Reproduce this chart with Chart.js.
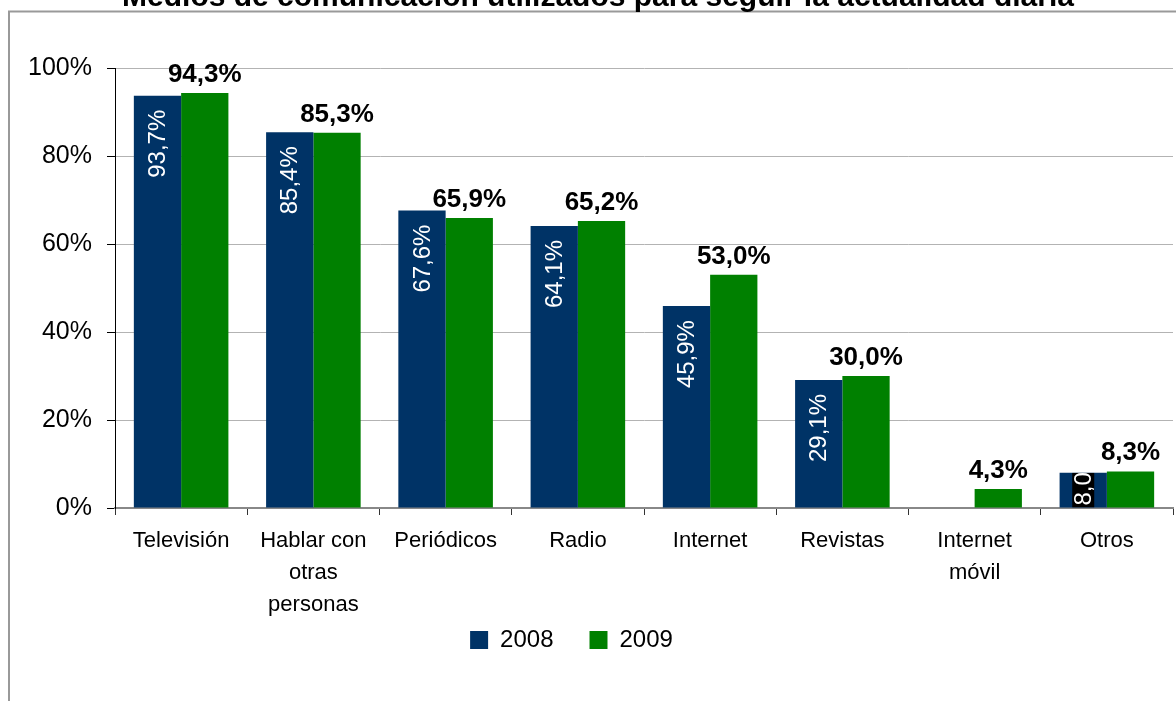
<!DOCTYPE html>
<html>
<head>
<meta charset="utf-8">
<script src="https://cdn.jsdelivr.net/npm/chart.js@4.4.0/dist/chart.umd.min.js"></script>
<style>
  html, body { margin: 0; padding: 0; background: #fff; }
  #wrap { width: 1176px; height: 701px; position: relative; }
</style>
</head>
<body>
<div id="wrap"><canvas id="chart"></canvas></div>
<script>
const chartTitle = 'Medios de comunicación utilizados para seguir la actualidad diaria';
const categories = [['Televisión'], ['Hablar con', 'otras', 'personas'], ['Periódicos'], ['Radio'],
                    ['Internet'], ['Revistas'], ['Internet', 'móvil'], ['Otros']];
const seriesNames = ['2008', '2009'];
const values2008 = [93.7, 85.4, 67.6, 64.1, 45.9, 29.1, null, 8.0];
const values2009 = [94.3, 85.3, 65.9, 65.2, 53.0, 30.0, 4.3, 8.3];
const yMin = 0, yMax = 100, yStep = 20;

const FONT = '"Liberation Sans", Arial, Helvetica, sans-serif';
const NAVY = '#003366';
const GREEN = '#008000';

const fmt = v => v.toFixed(1).replace('.', ',') + '%';

// gray frame and cut-off title
const framePlugin = {
    id: 'frame',
    beforeDraw: (chart) => {
        const { ctx } = chart;
        ctx.save();
        ctx.fillStyle = '#fff';
        ctx.fillRect(0, 0, chart.width, chart.height);
        ctx.strokeStyle = '#999';
        ctx.lineWidth = 2;
        ctx.strokeRect(9, 11.5, chart.width + 20, chart.height + 20);
        ctx.fillStyle = '#000';
        ctx.font = 'bold 30px ' + FONT;
        ctx.textAlign = 'center';
        ctx.textBaseline = 'alphabetic';
        ctx.fillText(chartTitle, 598, 6);
        ctx.restore();
    },
    afterLayout: (chart) => {
        // legend sits left of centre and tucked under the labels in the original
        chart.legend.left -= 15;
        chart.legend.right -= 15;
        chart.legend.top -= 31;
        chart.legend.bottom -= 31;
    }
};

const labelPlugin = {
    id: 'barLabels',
    afterDatasetsDraw: (chart) => {
        const { ctx } = chart;
        const m0 = chart.getDatasetMeta(0);
        const m1 = chart.getDatasetMeta(1);

        ctx.save();
        ctx.fillStyle = '#000';
        ctx.font = 'bold 26px ' + FONT;
        ctx.textAlign = 'center';
        ctx.textBaseline = 'alphabetic';
        m1.data.forEach((bar, i) => {
            if (values2009[i] == null) return;
            ctx.fillText(fmt(values2009[i]), bar.x, bar.y - 11);
        });
        ctx.restore();

        m0.data.forEach((bar, i) => {
            const v = values2008[i];
            if (v == null) return;
            const text = fmt(v);
            ctx.save();
            ctx.font = '24px ' + FONT;
            const w = ctx.measureText(text).width;
            const h = bar.base - bar.y;
            if (w + 20 > h) {
                // too short: black patch with clipped label
                ctx.beginPath();
                ctx.rect(bar.x - bar.width / 2, bar.y, bar.width, h);
                ctx.clip();
                ctx.fillStyle = '#000';
                ctx.fillRect(bar.x - 11, bar.y, 22, h);
                ctx.translate(bar.x, bar.base - 2);
                ctx.rotate(-Math.PI / 2);
                ctx.textAlign = 'left';
            } else {
                ctx.translate(bar.x, bar.y + 14);
                ctx.rotate(-Math.PI / 2);
                ctx.textAlign = 'right';
            }
            ctx.textBaseline = 'middle';
            ctx.fillStyle = '#fff';
            ctx.fillText(text, 0, 1);
            ctx.restore();
        });
    }
};

new Chart(document.getElementById('chart'), {
    type: 'bar',
    plugins: [framePlugin, labelPlugin],
    data: {
        labels: categories,
        datasets: [
            { label: seriesNames[0], data: values2008, backgroundColor: NAVY, borderWidth: 0 },
            { label: seriesNames[1], data: values2009, backgroundColor: GREEN, borderWidth: 0 }
        ]
    },
    options: {
        responsive: true,
        maintainAspectRatio: false,
        animation: false,
        events: [],
        layout: { padding: { top: 68, right: 3, left: 0, bottom: 8 } },
        datasets: { bar: { categoryPercentage: 0.715, barPercentage: 1 } },
        plugins: {
            title: { display: false },
            tooltip: { enabled: false },
            legend: {
                position: 'bottom',
                labels: {
                    boxWidth: 18,
                    boxHeight: 18,
                    padding: 36,
                    color: '#000',
                    font: { size: 24, family: FONT }
                }
            }
        },
        scales: {
            x: {
                afterFit: (s) => { s.height = 115; },
                grid: {
                    offset: true,
                    drawOnChartArea: false,
                    drawTicks: true,
                    tickLength: 7,
                    tickColor: '#333'
                },
                border: { color: '#888', width: 2 },
                ticks: {
                    color: '#000',
                    maxRotation: 0,
                    autoSkip: false,
                    padding: 10,
                    font: { size: 22, family: FONT, lineHeight: 1.45 }
                }
            },
            y: {
                min: yMin,
                max: yMax,
                afterFit: (s) => { s.width = 115; },
                grid: {
                    color: '#b3b3b3',
                    tickColor: '#000',
                    tickLength: 8
                },
                border: { color: '#000', width: 1 },
                ticks: {
                    stepSize: yStep,
                    color: '#000',
                    padding: 15,
                    font: { size: 25, family: FONT },
                    callback: v => v + '%'
                }
            }
        }
    }
});
</script>
</body>
</html>
